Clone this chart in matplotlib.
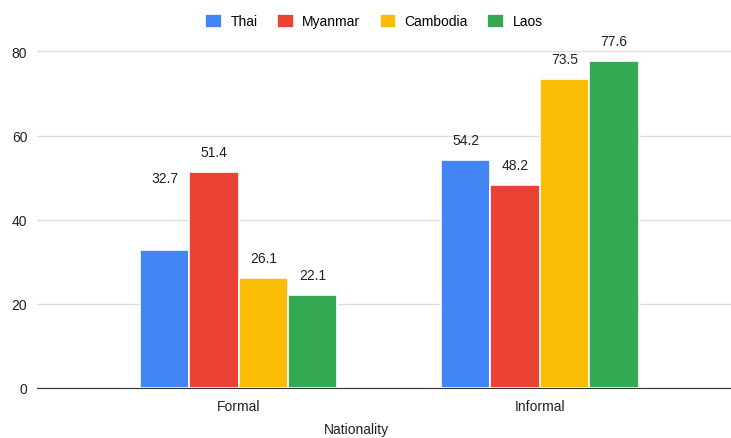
import matplotlib.pyplot as plt
import numpy as np

plt.rcParams['font.family'] = ['Liberation Sans', 'DejaVu Sans']

categories = ['Formal', 'Informal']
series = ['Thai', 'Myanmar', 'Cambodia', 'Laos']
thai = [32.7, 54.2]
myanmar = [51.4, 48.2]
cambodia = [26.1, 73.5]
laos = [22.1, 77.6]
colors = ['#4285F4', '#EA4335', '#FBBC04', '#34A853']

values = [thai, myanmar, cambodia, laos]
# google charts pushes this one label upward
label_lift = {(0, 0): 52}

fig = plt.figure(figsize=(7.31, 4.39), dpi=100)
ax = fig.add_axes([37 / 731, 50 / 439, 1 - 37 / 731, 0.81])

x = np.arange(len(categories))
w = 0.164
for i, (name, vals) in enumerate(zip(series, values)):
    pos = x + (i - 1.5) * w
    bars = ax.bar(pos, vals, width=w, color=colors[i], edgecolor='white',
                  linewidth=1.2, label=name, zorder=3)
    for j, b in enumerate(bars):
        off = 20 + label_lift.get((i, j), 0)
        ax.annotate(f'{vals[j]:.1f}', (b.get_x() + b.get_width() / 2, b.get_height()),
                    xytext=(0, off), textcoords='offset pixels',
                    ha='center', va='center', fontsize=10, color='#222222')

ax.set_xlim(-0.67, 1.635)
ax.set_ylim(0, 84.5)
ax.set_yticks([0, 20, 40, 60, 80])
ax.set_xticks(x)
ax.set_xticklabels(categories)
ax.tick_params(axis='both', length=0, labelsize=10, colors='#222222')
ax.tick_params(axis='x', pad=8)
ax.tick_params(axis='y', pad=7)
ax.grid(axis='y', color='#dddddd', linewidth=1, zorder=0)
for s in ['top', 'right', 'left']:
    ax.spines[s].set_visible(False)
ax.spines['bottom'].set_color('#333333')
ax.spines['bottom'].set_zorder(4)

fig.text(356 / 731, 2 / 439, 'Nationality', ha='center', va='bottom', fontsize=10, color='#222222')

fig.legend(loc='center', bbox_to_anchor=(374 / 731, 1 - 22 / 439), ncol=4, frameon=False,
           fontsize=10, handlelength=1.2, handleheight=1.2, handletextpad=0.6,
           columnspacing=1.4)

fig.savefig('out.png', dpi=100)
